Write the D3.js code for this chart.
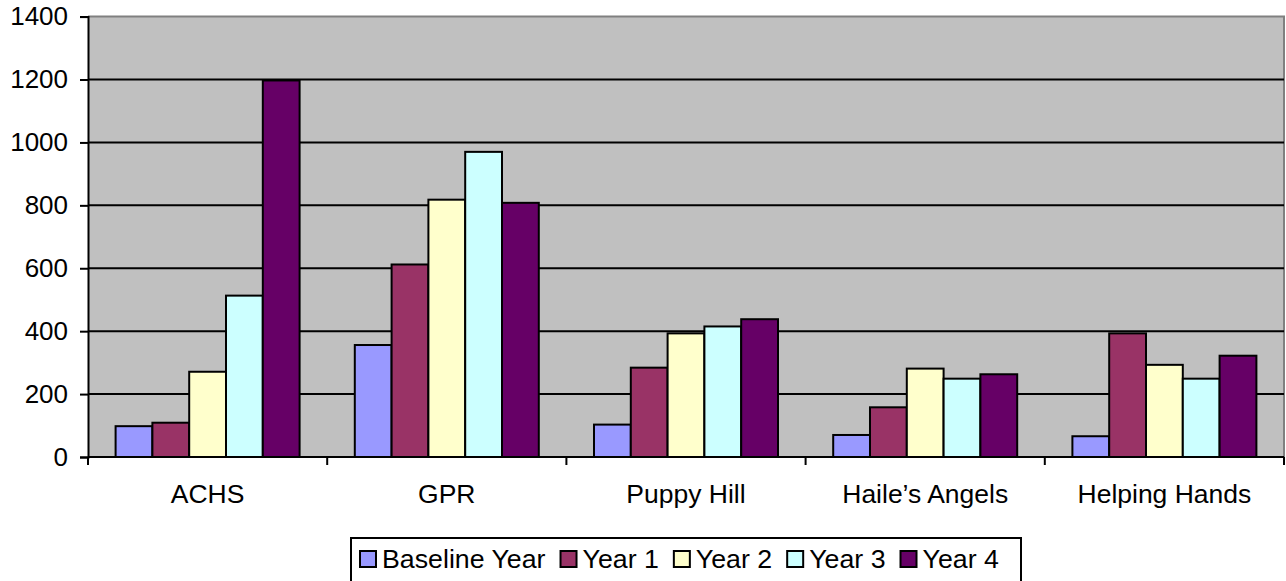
<!DOCTYPE html>
<html>
<head>
<meta charset="utf-8">
<script src="https://cdn.jsdelivr.net/npm/d3@7"></script>
<style>
  html, body { margin: 0; padding: 0; background: #fff; }
  svg { display: block; }
  text { font-family: "Liberation Sans", Arial, sans-serif; fill: #000; }
</style>
</head>
<body>
<svg id="chart" width="1286" height="581"></svg>
<script>
const categories = ["ACHS", "GPR", "Puppy Hill", "Haile\u2019s Angels", "Helping Hands"];
const seriesNames = ["Baseline Year", "Year 1", "Year 2", "Year 3", "Year 4"];
const baselineYear = [98, 356, 103, 70, 66];
const year1 = [109, 612, 284, 158, 393];
const year2 = [271, 818, 393, 281, 293];
const year3 = [513, 970, 415, 249, 249];
const year4 = [1197, 808, 438, 263, 322];
const seriesColors = ["#9999FF", "#993366", "#FFFFCC", "#CCFFFF", "#660066"];
const yTicks = [0, 200, 400, 600, 800, 1000, 1200, 1400];

const seriesValues = [baselineYear, year1, year2, year3, year4];

const svg = d3.select("#chart");
const pLeft = 88, pRight = 1284, pTop = 16.6, pBottom = 457;
const stretch = 1.06;

const x = d3.scaleBand().domain(categories).range([pLeft, pRight]).paddingInner(0).paddingOuter(0);
const xs = d3.scaleBand().domain(seriesNames).range([0, x.bandwidth()]).paddingInner(0).paddingOuter(0.75);
const y = d3.scaleLinear().domain([0, 1400]).range([pBottom, pTop]);

// plot background
svg.append("rect").attr("x", pLeft).attr("y", pTop).attr("width", pRight - pLeft).attr("height", pBottom - pTop)
  .attr("fill", "#C0C0C0");
// gray border top/right
svg.append("path").attr("d", `M${pLeft},${pTop}H${pRight}V${pBottom}`).attr("fill", "none")
  .attr("stroke", "#808080").attr("stroke-width", 2);

// gridlines
svg.append("g").selectAll("line").data(yTicks.filter(v => v > 0 && v < 1400)).join("line")
  .attr("x1", pLeft).attr("x2", pRight).attr("y1", d => y(d)).attr("y2", d => y(d))
  .attr("stroke", "#000").attr("stroke-width", 2);

// bars
const groups = svg.append("g").selectAll("g").data(categories).join("g")
  .attr("transform", d => `translate(${x(d)},0)`);
groups.selectAll("rect").data((c, i) => seriesNames.map((s, j) => ({ s, j, v: seriesValues[j][i] }))).join("rect")
  .attr("x", d => xs(d.s)).attr("width", xs.bandwidth())
  .attr("y", d => y(d.v)).attr("height", d => y(0) - y(d.v))
  .attr("fill", d => seriesColors[d.j]).attr("stroke", "#000").attr("stroke-width", 2);

// y axis
const yAxis = svg.append("g").attr("transform", `translate(${pLeft},0)`)
  .call(d3.axisLeft(y).tickValues(yTicks).tickFormat(d3.format("d")).tickSize(8).tickPadding(12));
yAxis.select(".domain").attr("stroke", "#000").attr("stroke-width", 2);
yAxis.selectAll(".tick line").attr("stroke", "#000").attr("stroke-width", 2);
yAxis.selectAll(".tick text").attr("font-size", 25).attr("font-family", "Liberation Sans, Arial, sans-serif")
  .attr("fill", "#000").attr("transform", "translate(-20,0) scale(1.04,1) translate(20,0)");

// x axis
const xAxisG = svg.append("g");
xAxisG.append("line").attr("x1", pLeft).attr("x2", pRight).attr("y1", pBottom).attr("y2", pBottom)
  .attr("stroke", "#000").attr("stroke-width", 2);
const boundaries = categories.map(c => x(c)).concat([x(categories[categories.length - 1]) + x.bandwidth()]);
xAxisG.selectAll("line.tk").data(boundaries).join("line").attr("class", "tk")
  .attr("x1", d => d).attr("x2", d => d).attr("y1", pBottom).attr("y2", pBottom + 8)
  .attr("stroke", "#000").attr("stroke-width", 2);
xAxisG.selectAll("text").data(categories).join("text")
  .attr("transform", d => `translate(${x(d) + x.bandwidth() / 2},503) scale(${stretch},1)`)
  .attr("text-anchor", "middle").attr("font-size", 25).text(d => d);

// legend
const lg = svg.append("g");
lg.append("rect").attr("x", 351).attr("y", 538).attr("width", 670).attr("height", 60)
  .attr("fill", "#fff").attr("stroke", "#000").attr("stroke-width", 2);
let lx = 360;
seriesNames.forEach((s, j) => {
  lg.append("rect").attr("x", lx).attr("y", 551).attr("width", 16).attr("height", 16)
    .attr("fill", seriesColors[j]).attr("stroke", "#000").attr("stroke-width", 2);
  const t = lg.append("text").attr("transform", `translate(${lx + 22},568) scale(1.07,1)`)
    .attr("font-size", 25).text(s);
  lx += 22 + t.node().getComputedTextLength() * 1.07 + 15;
});
</script>
</body>
</html>
